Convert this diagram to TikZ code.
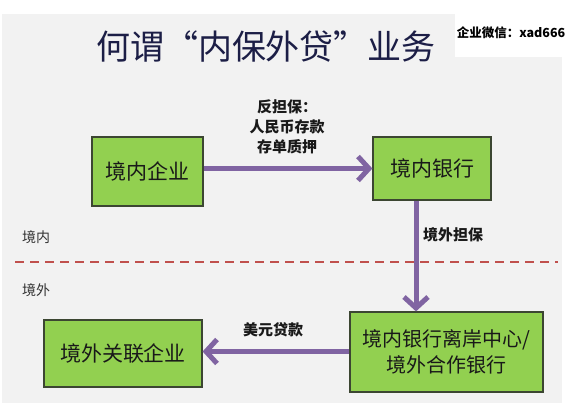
\documentclass[tikz,border=0pt]{standalone}
\usepackage{fontspec}
\setmainfont{Noto Sans CJK SC}
\newfontfamily\cjk{Noto Sans CJK SC}
\usetikzlibrary{arrows.meta}
\definecolor{bgray}{RGB}{242,242,242}
\definecolor{boxgreen}{RGB}{146,208,80}
\definecolor{boxedge}{RGB}{60,70,50}
\definecolor{arrowpurple}{RGB}{128,100,162}
\definecolor{dashred}{RGB}{192,80,77}
\definecolor{titlecol}{RGB}{28,30,70}
\definecolor{txt}{RGB}{25,25,25}
\tikzset{
  gbox/.style={draw=boxedge, line width=1.2pt, fill=boxgreen, inner sep=0pt, align=center, text=txt, font=\cjk\fontsize{21}{26}\selectfont},
  flow/.style={draw=arrowpurple, line width=5pt, -{Straight Barb[length=11pt,width=24pt]}},
  lbl/.style={text=txt, font=\cjk\bfseries\fontsize{15}{20}\selectfont, align=center, inner sep=0pt},
  zone/.style={text=black!80, font=\cjk\fontsize{14}{16}\selectfont, inner sep=0pt, anchor=west}
}
\begin{document}
\begin{tikzpicture}[x=1pt,y=-1pt]
\useasboundingbox (0,0) rectangle (582,415);
\fill[white] (0,0) rectangle (582,415);
\fill[bgray] (2,14) rectangle (562,403);
\fill[white] (455,14) rectangle (582,57);
\node[font=\cjk\bfseries\fontsize{12.5}{14}\selectfont, text=black, inner sep=0pt] (wm) at (511,33) {企业微信：xad666};
\node[font=\cjk\fontsize{34}{38}\selectfont, text=titlecol, inner sep=0pt] (title) at (266,47) {何谓“内保外贷”业务};

\draw[dashred, line width=2.2pt, dash pattern=on 9pt off 6pt] (15,262) coordinate (dl) -- (558,262) coordinate (dr);
\node[zone] (zin) at (22,237) {境内};
\node[zone] (zout) at (22,290) {境外};

\node[gbox, minimum width=111pt, minimum height=69pt] (b1) at (147.5,171.5) {境内企业};
\node[gbox, minimum width=118pt, minimum height=63pt] (b2) at (432,168.5) {境内银行};
\node[gbox, minimum width=193pt, minimum height=80pt, font=\cjk\fontsize{20}{26}\selectfont] (b3) at (446.5,352) {境内银行离岸中心/\\境外合作银行};
\node[gbox, minimum width=158pt, minimum height=67pt] (b4) at (123,353.5) {境外关联企业};

\draw[flow] (b1.east |- b2.west) -- (b2.west);
\coordinate (va) at (416,200);
\draw[flow] (b2.south -| va) -- (b3.north -| va);
\draw[flow] (b3.west |- 0,351.5) -- (b4.east |- 0,351.5);

\node[lbl] (l1) at (287,127) {反担保：\\人民币存款\\存单质押};
\node[lbl, anchor=west] (l2) at (423,235) {境外担保};
\node[lbl] (l3) at (273,330) {美元贷款};
\end{tikzpicture}
\end{document}
